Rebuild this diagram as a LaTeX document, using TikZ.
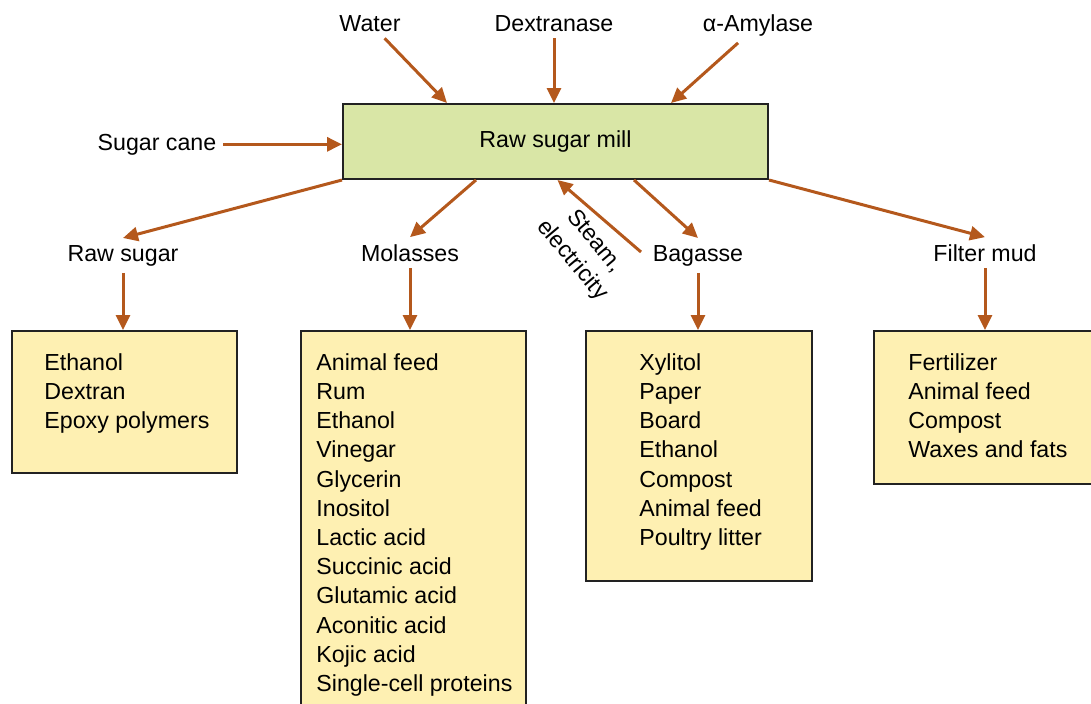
\documentclass[tikz,border=0pt]{standalone}
\usepackage{fontspec}
\setmainfont{Liberation Sans}
\usetikzlibrary{arrows.meta}
\definecolor{millgreen}{RGB}{217,230,166}
\definecolor{listyellow}{RGB}{254,240,178}
\definecolor{flowbrown}{RGB}{180,88,28}
\definecolor{boxline}{RGB}{34,34,34}
\tikzset{
    every node/.style={font=\fontsize{11.6pt}{14.6pt}\selectfont},
    flow/.style={draw=flowbrown, line width=1.5pt, -{Triangle[length=7.5pt,width=7pt]}},
    millbox/.style={draw=boxline, line width=1pt, fill=millgreen, minimum width=212.5pt, minimum height=37.5pt},
    listbox/.style={draw=boxline, line width=1pt, fill=listyellow, anchor=north west, inner sep=0pt},
    listtext/.style={align=left, anchor=north west, inner sep=0pt},
    lbl/.style={anchor=base}
}
\begin{document}
\begin{tikzpicture}[x=0.5pt, y=-0.5pt]
        \useasboundingbox (0,0) rectangle (1091,703);
        % Muehle
        \node[millbox] (mill) at (555.5,141.5) {Raw sugar mill};
        % Eingaenge
        \node[lbl] (water)      at (370,31)  {Water};
        \node[lbl] (dextranase) at (554,31)  {Dextranase};
        \node[lbl] (amylase)    at (758,31)  {α-Amylase};
        \node[lbl] (cane)       at (157,150) {Sugar cane};
        \draw[flow] (water)      -- ([xshift=52.5pt]mill.north west);
        \draw[flow] (dextranase) -- (dextranase |- mill.north);
        \draw[flow] (amylase)    -- ([xshift=-49pt]mill.north east);
        \draw[flow] (cane.east)  -- (cane.east -| mill.west);
        % Produkte
        \node[lbl] (rawsugar)  at (123,261) {Raw sugar};
        \node[lbl] (molasses)  at (410,261) {Molasses};
        \node[lbl] (bagasse)   at (698,261) {Bagasse};
        \node[lbl] (filtermud) at (985,261) {Filter mud};
        \node[rotate=-50, align=center] (steam) at (583,251) {Steam,\\electricity};
        \coordinate (steamfrom) at (641,252);
        \draw[flow] (mill.south west) -- (rawsugar.north);
        \draw[flow] ([xshift=67pt]mill.south west) -- (molasses.north);
        \draw[flow] ([xshift=-67.5pt]mill.south east) -- (bagasse.north);
        \draw[flow] (mill.south east) -- (filtermud.north);
        \draw[flow] (steamfrom) -- ([xshift=1pt]mill.south);
        % Listen
        \node[listbox, minimum width=112.5pt, minimum height=71pt]  (rawbox) at (11,330)  {};
        \node[listbox, minimum width=112.5pt, minimum height=200pt] (molbox) at (300,330) {};
        \node[listbox, minimum width=113pt,   minimum height=125pt] (bagbox) at (585,330) {};
        \node[listbox, minimum width=120pt,   minimum height=76.5pt] (mudbox) at (873,330) {};
        \node[listtext] (rawlist) at (44,353)  {Ethanol\\Dextran\\Epoxy polymers};
        \node[listtext] (mollist) at (316,353) {Animal feed\\Rum\\Ethanol\\Vinegar\\Glycerin\\Inositol\\Lactic acid\\Succinic acid\\Glutamic acid\\Aconitic acid\\Kojic acid\\Single-cell proteins};
        \node[listtext] (baglist) at (639,353) {Xylitol\\Paper\\Board\\Ethanol\\Compost\\Animal feed\\Poultry litter};
        \node[listtext] (mudlist) at (908,353) {Fertilizer\\Animal feed\\Compost\\Waxes and fats};
        \draw[flow] (rawsugar.south)  -- (rawsugar.south |- rawbox.north);
        \draw[flow] (molasses.south)  -- (molasses.south |- molbox.north);
        \draw[flow] (bagasse.south)   -- (bagasse.south |- bagbox.north);
        \draw[flow] (filtermud.south) -- (filtermud.south |- mudbox.north);
\end{tikzpicture}
\end{document}
